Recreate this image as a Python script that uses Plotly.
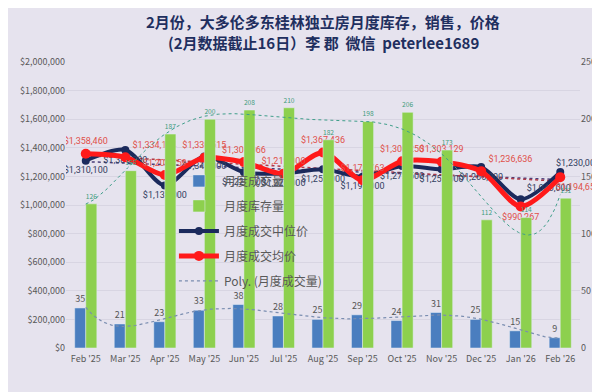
import numpy as np
import plotly.graph_objects as go

months = ["Feb '25", "Mar '25", "Apr '25", "May '25", "Jun '25", "Jul '25", "Aug '25",
          "Sep '25", "Oct '25", "Nov '25", "Dec '25", "Jan '26", "Feb '26"]
sales = [35, 21, 23, 33, 38, 28, 25, 29, 24, 31, 25, 15, 9]
inventory = [126, 155, 187, 200, 208, 210, 182, 198, 206, 173, 112, 114, 131]
median_price = [1310100, 1385000, 1137000, 1340000, 1229500, 1220000, 1250000,
                1198000, 1272500, 1250000, 1265000, 1040000, 1230000]
avg_price = [1358460, 1334124, 1209759, 1330515, 1300066, 1219000, 1367436,
             1173763, 1306250, 1303129, 1236636, 990267, 1194654]

x = np.arange(len(months))
xs = np.linspace(0, len(months) - 1, 240)
last = len(months) - 1

def fit(vals, deg):
    c = np.polyfit(x, vals, deg)
    return np.polyval(c, xs)

def money(v):
    return "${:,.0f}".format(v)

BG = "#E6E3EE"
NAVY = "#1B2A5C"
RED = "#FF1A1A"
NAVY_TXT = "#33405F"
RED_TXT = "#E0504A"
LBL_FONT = "Liberation Sans Narrow, Roboto, Noto Sans, sans-serif"
TOP, BOT = 54, 52

fig = go.Figure()

fig.add_trace(go.Bar(
    x=x, y=sales, name="月度成交量", yaxis="y2",
    marker=dict(color="#4A7EBF"), width=0.28, offset=-0.28,
    text=[str(v) for v in sales], textposition="outside",
    textfont=dict(size=9, color="#555555"), cliponaxis=False,
    legendgroup="a"))
fig.add_trace(go.Bar(
    x=x, y=inventory, name="月度库存量", yaxis="y2",
    marker=dict(color="#8DD04E"), width=0.28, offset=0.0,
    text=[str(v) for v in inventory], textposition="outside",
    textfont=dict(size=9, color="#3E9C7C"), cliponaxis=False,
    legendgroup="b"))

# trendlines
fig.add_trace(go.Scatter(x=xs, y=fit(inventory, 6), yaxis="y2", mode="lines",
                         line=dict(color="#3F9E8A", width=1, dash="dot"),
                         showlegend=False, hoverinfo="skip", legendgroup="t1"))
fig.add_trace(go.Scatter(x=xs, y=fit(median_price, 1), mode="lines",
                         line=dict(color="#4A3F7A", width=1.5, dash="dot"),
                         showlegend=False, hoverinfo="skip", legendgroup="t2"))
fig.add_trace(go.Scatter(x=xs, y=fit(avg_price, 1), mode="lines",
                         line=dict(color="#B03A48", width=1.5, dash="dot"),
                         showlegend=False, hoverinfo="skip", legendgroup="t3"))

navy_txt = [money(v) for v in median_price]
navy_txt[last] = ""
navy_pos = ["bottom center"] * 13
navy_pos[11] = "top right"
fig.add_trace(go.Scatter(
    x=x, y=median_price, name="月度成交中位价", mode="lines+markers+text",
    line=dict(color=NAVY, width=4, shape="spline", smoothing=0.8),
    marker=dict(color=NAVY, size=8),
    text=navy_txt, textposition=navy_pos,
    textfont=dict(size=9, color=NAVY_TXT, family=LBL_FONT), legendgroup="c"))

red_txt = [money(v) for v in avg_price]
red_txt[last] = ""
red_pos = ["top center"] * 13
red_pos[1] = "top right"
red_pos[10] = "top right"
red_pos[11] = "bottom center"
fig.add_trace(go.Scatter(
    x=x, y=avg_price, name="月度成交均价", mode="lines+markers+text",
    line=dict(color=RED, width=5, shape="spline", smoothing=0.8),
    marker=dict(color=RED, size=10),
    text=red_txt, textposition=red_pos,
    textfont=dict(size=9, color=RED_TXT, family=LBL_FONT), legendgroup="d"))

fig.add_trace(go.Scatter(x=xs, y=fit(sales, 6), yaxis="y2", mode="lines",
                         name="Poly. (月度成交量)",
                         line=dict(color="#7A8DB0", width=1.2, dash="dot"),
                         hoverinfo="skip", legendgroup="e"))

# last-point labels placed as annotations so they stay inside the page
fig.add_annotation(x=last, y=median_price[last], text=money(median_price[last]),
                   showarrow=False, xanchor="right", yanchor="bottom", xshift=42, yshift=2,
                   font=dict(size=9, color=NAVY_TXT, family=LBL_FONT))
fig.add_annotation(x=last, y=avg_price[last], text=money(avg_price[last]),
                   showarrow=False, xanchor="right", yanchor="top", xshift=42, yshift=-3,
                   font=dict(size=9, color=RED_TXT, family=LBL_FONT))

plot_h = 392 - TOP - BOT
def page_y(px):
    return (plot_h + TOP - px) / plot_h

fig.add_annotation(x=0.5, y=page_y(13), xref="paper", yref="paper", showarrow=False,
                   xanchor="center", yanchor="middle",
                   text="<b>2月份，大多伦多东桂林独立房月度库存，销售，价格</b>",
                   font=dict(size=15, color="#1F2F5F", family="Noto Sans CJK SC"))
fig.add_annotation(x=0.5, y=page_y(35), xref="paper", yref="paper", showarrow=False,
                   xanchor="center", yanchor="middle",
                   text="<b>(2月数据截止16日）李 郡  微信  peterlee1689</b>",
                   font=dict(size=15, color="#1F2F5F", family="Noto Sans CJK SC"))

fig.update_layout(
    width=600, height=392,
    paper_bgcolor=BG, plot_bgcolor=BG,
    margin=dict(l=55, r=25, t=TOP, b=BOT),
    font=dict(family="Noto Sans CJK SC, Noto Sans, sans-serif", size=9, color="#595959"),
    xaxis=dict(tickmode="array", tickvals=x, ticktext=months, range=[-0.5, 12.5],
               showgrid=False, zeroline=False, showline=False, ticks="",
               ticklabelstandoff=4,
               tickfont=dict(size=9, color="#595959")),
    yaxis=dict(range=[0, 2000000], dtick=200000, tickformat="$,.0f",
               showgrid=True, gridcolor="#D8D5E2", zeroline=False,
               tickfont=dict(size=9, color="#595959")),
    yaxis2=dict(range=[0, 250], dtick=50, overlaying="y", side="right",
                showgrid=False, zeroline=False,
                tickfont=dict(size=9, color="#595959")),
    legend=dict(x=0.21, y=0.635, xanchor="left", yanchor="top",
                bgcolor="rgba(0,0,0,0)", font=dict(size=12, color="#595959"),
                tracegroupgap=6, traceorder="grouped", itemwidth=40),
    showlegend=True,
)

fig.write_html("out.html")
